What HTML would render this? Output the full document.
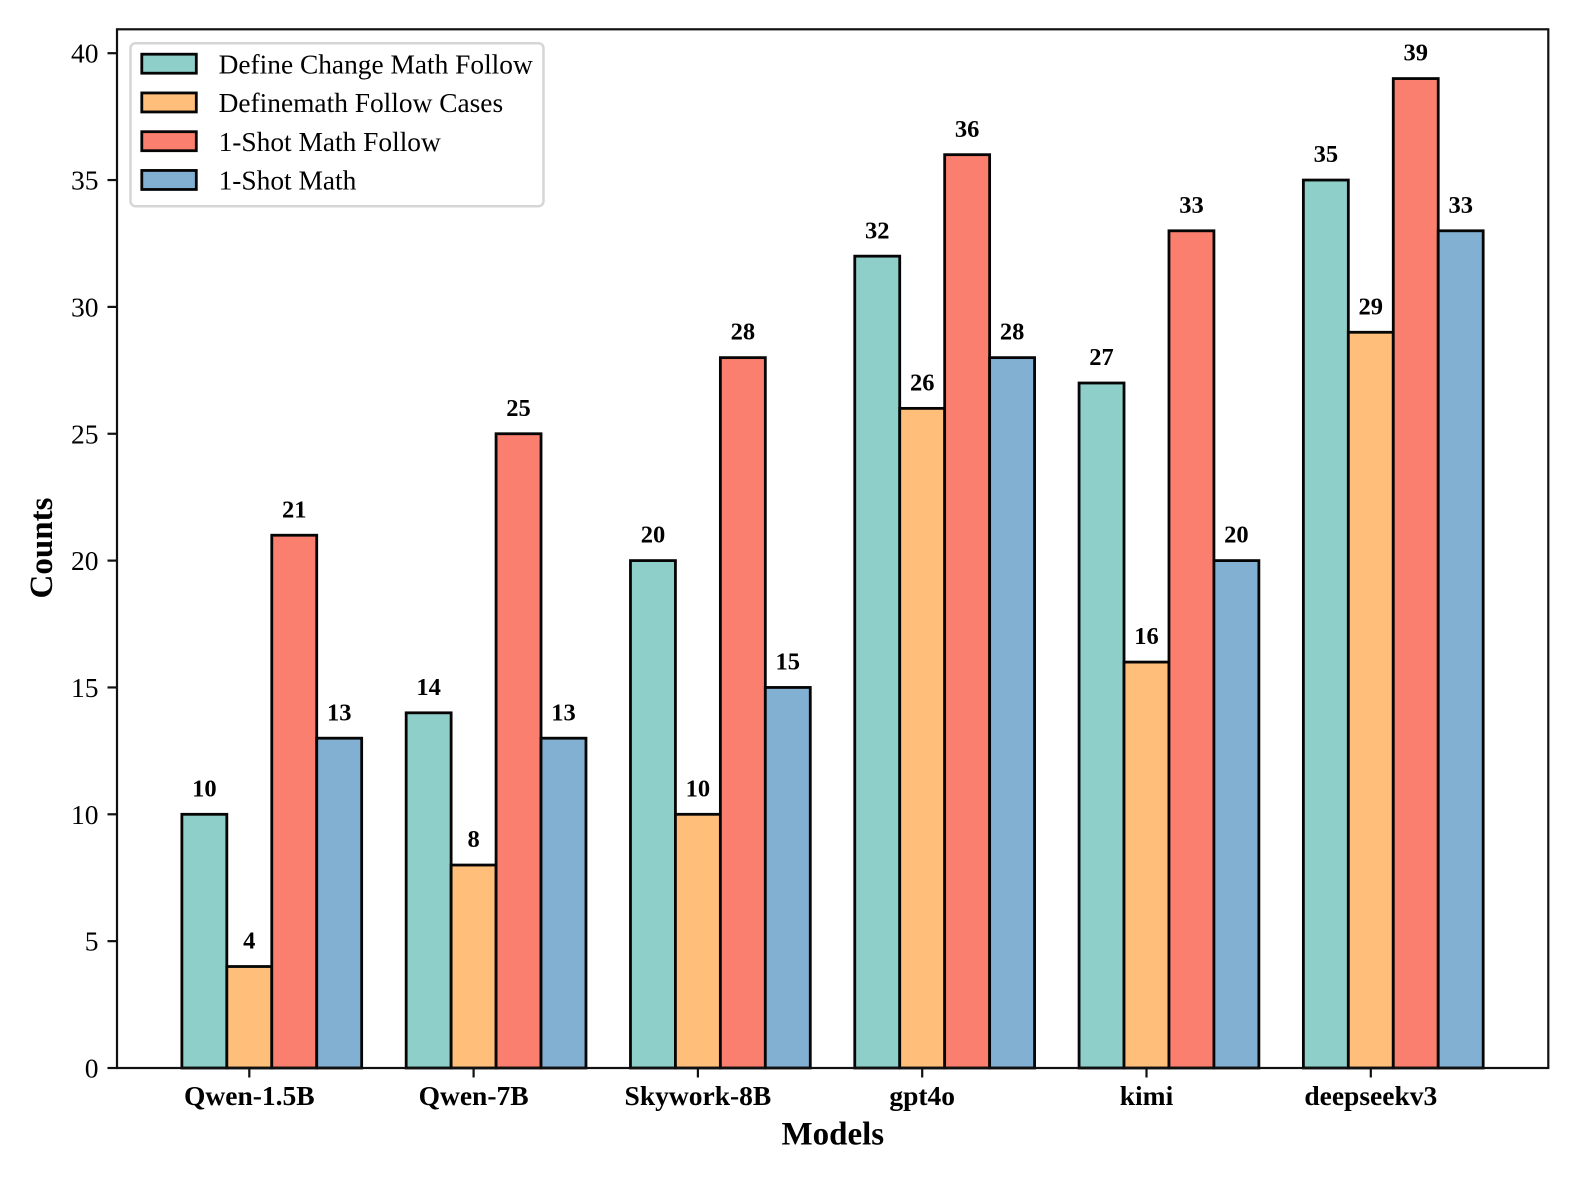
<!DOCTYPE html>
<html>
<head>
<meta charset="utf-8">
<style>
html,body{margin:0;padding:0;background:#fff;width:1578px;height:1183px;overflow:hidden}
svg{display:block;font-family:"Liberation Serif",serif;filter:blur(0.35px)}
</style>
</head>
<body>
<svg id="chart" width="1578" height="1183" viewBox="0 0 1578 1183" xmlns="http://www.w3.org/2000/svg">
<rect x="0" y="0" width="1578" height="1183" fill="#fff"/>
<g id="bars"></g>
<g id="labels"></g>
<rect x="117" y="29.3" width="1431.3" height="1038.7" fill="none" stroke="#111" stroke-width="2.2"/>
<g id="yaxis"></g>
<g id="xaxis"></g>
<text transform="translate(52,548) rotate(-90)" text-anchor="middle" font-size="33" font-weight="bold" fill="#000">Counts</text>
<text x="832.8" y="1144.3" text-anchor="middle" font-size="33" font-weight="bold" fill="#000">Models</text>
<g id="legend">
<rect x="130.5" y="43.2" width="413" height="163" rx="5" ry="5" fill="#fff" stroke="#d6d6d6" stroke-width="2.5"/>
</g>
</svg>
<script>
const categories = ["Qwen-1.5B", "Qwen-7B", "Skywork-8B", "gpt4o", "kimi", "deepseekv3"];
const seriesNames = ["Define Change Math Follow", "Definemath Follow Cases", "1-Shot Math Follow", "1-Shot Math"];
const seriesColors = ["#8ecfc9", "#ffbe7a", "#fa7f6f", "#82b0d2"];
const defineChangeMathFollow = [10, 14, 20, 32, 27, 35];
const definemathFollowCases = [4, 8, 10, 26, 16, 29];
const oneShotMathFollow = [21, 25, 28, 36, 33, 39];
const oneShotMath = [13, 13, 15, 28, 20, 33];
const yTicks = [0, 5, 10, 15, 20, 25, 30, 35, 40];

const allSeries = [defineChangeMathFollow, definemathFollowCases, oneShotMathFollow, oneShotMath];
const NS = "http://www.w3.org/2000/svg";
const yScale = v => 1068 - v * 25.37;
const xCenter = i => 249.3 + i * 224.3;
const barW = 44.95;

function make(tag, attrs, parent, txt) {
  const el = document.createElementNS(NS, tag);
  for (const k in attrs) el.setAttribute(k, attrs[k]);
  if (txt !== undefined) el.textContent = txt;
  parent.appendChild(el);
  return el;
}

const barsG = document.getElementById("bars");
const labelsG = document.getElementById("labels");
allSeries.forEach((vals, s) => {
  vals.forEach((v, i) => {
    const x = xCenter(i) + (s - 1.5) * barW;
    const bar = make("rect", {x: x, y: yScale(v), width: barW, height: yScale(0) - yScale(v), fill: seriesColors[s], stroke: "#050505", "stroke-width": 2.8}, barsG);
    
    
    const t = make("text", {x: x + barW / 2, y: yScale(v) - 17.9, "text-anchor": "middle", "font-size": 24.5, "font-weight": "bold", fill: "#000"}, labelsG, String(v));
    
    
  });
});

const yG = document.getElementById("yaxis");
yTicks.forEach(v => {
  const tick = make("line", {x1: 107.5, x2: 117, y1: yScale(v), y2: yScale(v), stroke: "#111", "stroke-width": 2.2}, yG);
  
  
  const t = make("text", {x: 98.5, y: yScale(v) + 9.5, "text-anchor": "end", "font-size": 27.5, fill: "#000"}, yG, String(v));
  
  
});

const xG = document.getElementById("xaxis");
categories.forEach((c, i) => {
  const tick = make("line", {x1: xCenter(i), x2: xCenter(i), y1: 1068, y2: 1077.5, stroke: "#111", "stroke-width": 2.2}, xG);
  
  
  const t = make("text", {x: xCenter(i), y: 1105, "text-anchor": "middle", "font-size": 27.5, "font-weight": "bold", fill: "#000"}, xG, c);
  
  
});

const legendG = document.getElementById("legend");
seriesNames.forEach((n, s) => {
  const cy = 63.7 + s * 38.75;
  const sw = make("rect", {x: 141.8, y: cy - 9.5, width: 54.5, height: 19, fill: seriesColors[s], stroke: "#050505", "stroke-width": 2.8}, legendG);
  
  
  const t = make("text", {x: 218.6, y: cy + 9.7, "font-size": 27.4, fill: "#000"}, legendG, n);
  
  
});
</script>
</body>
</html>
